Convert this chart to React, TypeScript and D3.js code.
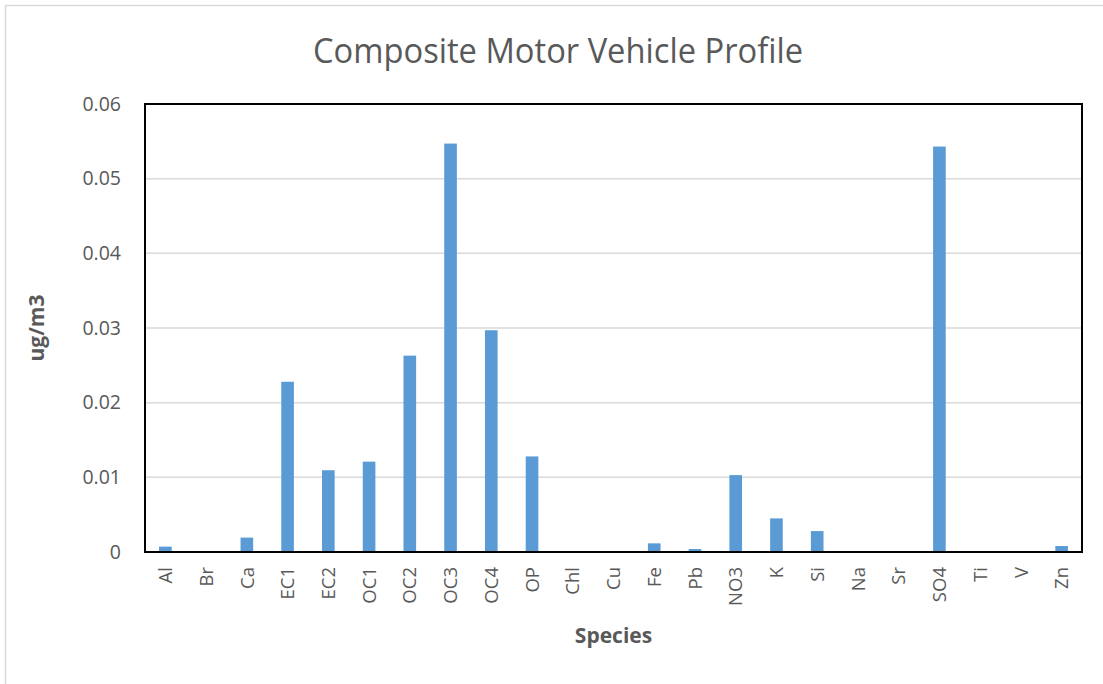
import { useMemo } from "react"
import * as d3 from "d3"

const species = ["Al", "Br", "Ca", "EC1", "EC2", "OC1", "OC2", "OC3", "OC4", "OP", "Chl", "Cu", "Fe", "Pb", "NO3", "K", "Si", "Na", "Sr", "SO4", "Ti", "V", "Zn"]
const values = [0.00072, 0.00005, 0.00193, 0.0228, 0.01095, 0.0121, 0.0263, 0.0547, 0.0297, 0.0128, 0.0001, 0.0001, 0.00116, 0.0004, 0.0103, 0.0045, 0.0028, 0, 0, 0.0543, 0.00005, 0, 0.0008]
const yTicks = [0, 0.01, 0.02, 0.03, 0.04, 0.05, 0.06]

const W = 1103
const H = 684
const margin = { top: 104, right: 21, bottom: 132, left: 145 }

export default function App() {
  const innerW = W - margin.left - margin.right
  const innerH = H - margin.top - margin.bottom

  const x = useMemo(
    () => d3.scaleBand().domain(species).range([0, innerW]).paddingInner(0.69).paddingOuter(0.345),
    [innerW]
  )
  const y = useMemo(() => d3.scaleLinear().domain([0, 0.06]).range([innerH, 0]), [innerH])

  const grey = "#595959"
  const font = "'Open Sans', sans-serif"

  return (
    <svg width={W} height={H} style={{ position: "absolute", left: 0, top: 0, background: "#fff" }}>
      <rect x={5.5} y={5.5} width={W + 20} height={H + 20} fill="#fff" stroke="#d9d9d9" strokeWidth={1.5} />

      {/* title */}
      <text
        x={558}
        y={63}
        textAnchor="middle"
        fontFamily={font}
        fontSize={35}
        textLength={490}
        lengthAdjust="spacingAndGlyphs"
        fill={grey}
      >
        Composite Motor Vehicle Profile
      </text>

      <g transform={`translate(${margin.left},${margin.top})`}>
        {/* gridlines */}
        {yTicks.map((t) => (
          <line key={t} x1={0} x2={innerW} y1={y(t)} y2={y(t)} stroke="#d9d9d9" strokeWidth={1.5} />
        ))}

        {/* bars */}
        {species.map((s, i) => (
          <rect
            key={s}
            x={x(s)}
            y={y(values[i])}
            width={x.bandwidth()}
            height={innerH - y(values[i])}
            fill="#5b9bd5"
          />
        ))}

        <rect x={0} y={0} width={innerW} height={innerH} fill="none" stroke="#000" strokeWidth={2} />

        {/* y tick labels */}
        {yTicks.map((t) => (
          <text key={t} x={-24} y={y(t)} dy="0.35em" textAnchor="end" fontFamily={font} fontSize={19.5} fill={grey}>
            {t === 0 ? "0" : d3.format(".2f")(t)}
          </text>
        ))}

        {/* x tick labels */}
        {species.map((s) => (
          <text
            key={s}
            transform={`translate(${(x(s) ?? 0) + x.bandwidth() / 2},${innerH + 15}) rotate(-90)`}
            dy="0.36em"
            textAnchor="end"
            fontFamily={font}
            fontSize={18.5}
            fill={grey}
          >
            {s}
          </text>
        ))}

        {/* axis titles */}
        <text
          transform={`translate(${-108},${innerH / 2}) rotate(-90)`}
          textAnchor="middle"
          dy="0.35em"
          fontFamily={font}
          fontWeight={700}
          fontSize={21}
          fill={grey}
        >
          ug/m3
        </text>
        <text x={innerW / 2} y={innerH + 91} textAnchor="middle" fontFamily={font} fontWeight={700} fontSize={21} fill={grey}>
          Species
        </text>
      </g>
    </svg>
  )
}
